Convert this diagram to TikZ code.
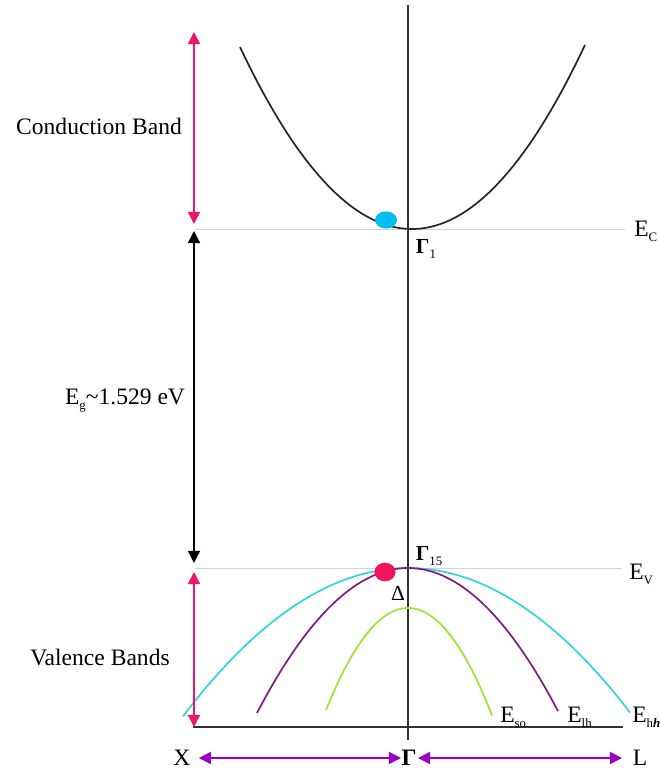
\documentclass[tikz,border=0pt]{standalone}
\usepackage{fontspec}
\setmainfont{Liberation Serif}
\usetikzlibrary{arrows.meta}

\definecolor{bandpink}{HTML}{E8186D}
\definecolor{holecyan}{HTML}{35D3DE}
\definecolor{holepurple}{HTML}{7E1E80}
\definecolor{sogreen}{HTML}{9EE234}
\definecolor{elecblue}{HTML}{00BDF2}
\definecolor{holered}{HTML}{F0125A}
\definecolor{kviolet}{HTML}{9A00C8}
\definecolor{axisgray}{HTML}{333333}
\definecolor{levelgray}{HTML}{D2D2D2}

\newcommand{\lowsub}[1]{\raisebox{-0.45ex}{\fontsize{9}{10}\selectfont #1}}

\tikzset{
  lbl/.style={font=\fontsize{16.5}{19}\selectfont, inner sep=0pt},
  sublbl/.style={font=\fontsize{15}{17}\selectfont, inner sep=0pt},
  dbl/.style={{Triangle[width=8.5pt,length=8.5pt]}-{Triangle[width=8.5pt,length=8.5pt]}, line width=1pt},
  level/.style={draw=levelgray, line width=0.5pt},
  band/.style={line width=1.2pt}
}

\begin{document}
\begin{tikzpicture}[x=0.7pt,y=-0.7pt]
  \useasboundingbox (0,0) rectangle (660,772);
  % Axes
  \coordinate (top) at (408,5);
  \coordinate (bot) at (408,740);
  \coordinate (kx) at (193,727);
  \coordinate (kl) at (623,727);
  \draw[axisgray, line width=1pt] (top) -- (bot);
  \draw[axisgray, line width=1pt] (kx) -- (kl);
  % Band edges
  \draw[level] (195,229) -- (625,229);
  \draw[level] (195,568) -- (622,568);
  \node[lbl, anchor=west] (ec) at (634,231) {E\lowsub{C}};
  \node[lbl, anchor=west] (ev) at (629,574) {E\lowsub{V}};
  % Conduction band
  \draw[band, black!85] plot[domain=240:585, samples=80] (\x, {229-61.5*((\x-412)/100)^2});
  \fill[elecblue] (386,220) ellipse [x radius=7.7pt, y radius=6pt];
  \node[sublbl] (g1) at (426,249) {\textbf{Γ}\lowsub{1}};
  % Valence bands
  \draw[band, holecyan] plot[domain=183:630, samples=80] (\x, {568+29.3*((\x-408)/100)^2});
  \draw[band, holepurple] plot[domain=257:558, samples=80] (\x, {568+63.6*((\x-408)/100)^2});
  \draw[band, sogreen] plot[domain=326:492, samples=80] (\x, {608+152*((\x-408)/100)^2});
  \fill[holered] (385,572) ellipse [x radius=7.4pt, y radius=6.5pt];
  \node[sublbl] (g15) at (429,556) {\textbf{Γ}\lowsub{15}};
  \node[sublbl] (delta) at (398,593) {Δ};
  \node[lbl, anchor=west] (eso) at (500,717) {E\lowsub{so}};
  \node[lbl, anchor=west] (elh) at (567,717) {E\lowsub{lh}};
  \node[lbl, anchor=west] (ehh) at (632,717) {E\lowsub{h\textbf{\textit{h}}}};
  % Energy ranges
  \coordinate (cbtop) at (194,32);
  \coordinate (cbbot) at (194,224);
  \coordinate (egtop) at (194,231);
  \coordinate (egbot) at (194,563);
  \coordinate (vbtop) at (194,572);
  \coordinate (vbbot) at (194,727);
  \draw[dbl, bandpink] (cbtop) -- (cbbot);
  \draw[dbl, black] (egtop) -- (egbot);
  \draw[dbl, bandpink] (vbtop) -- (vbbot);
  \node[lbl] (cb) at (99,126) {Conduction Band};
  \node[lbl] (eg) at (125,401) {E\lowsub{g}\textasciitilde1.529 eV};
  \node[lbl] (vb) at (100,657) {Valence Bands};
  % k-path
  \node[lbl] (X) at (182,758) {X};
  \node[lbl] (G) at (409,758) {\textbf{Γ}};
  \node[lbl] (L) at (640,758) {L};
  \draw[dbl, kviolet] (X.east) ++(8,0) coordinate (xr) -- (G.west -| 401,0);
  \draw[dbl, kviolet] (G.east -| 418,0) -- (L.west -| 622,0);
\end{tikzpicture}
\end{document}
